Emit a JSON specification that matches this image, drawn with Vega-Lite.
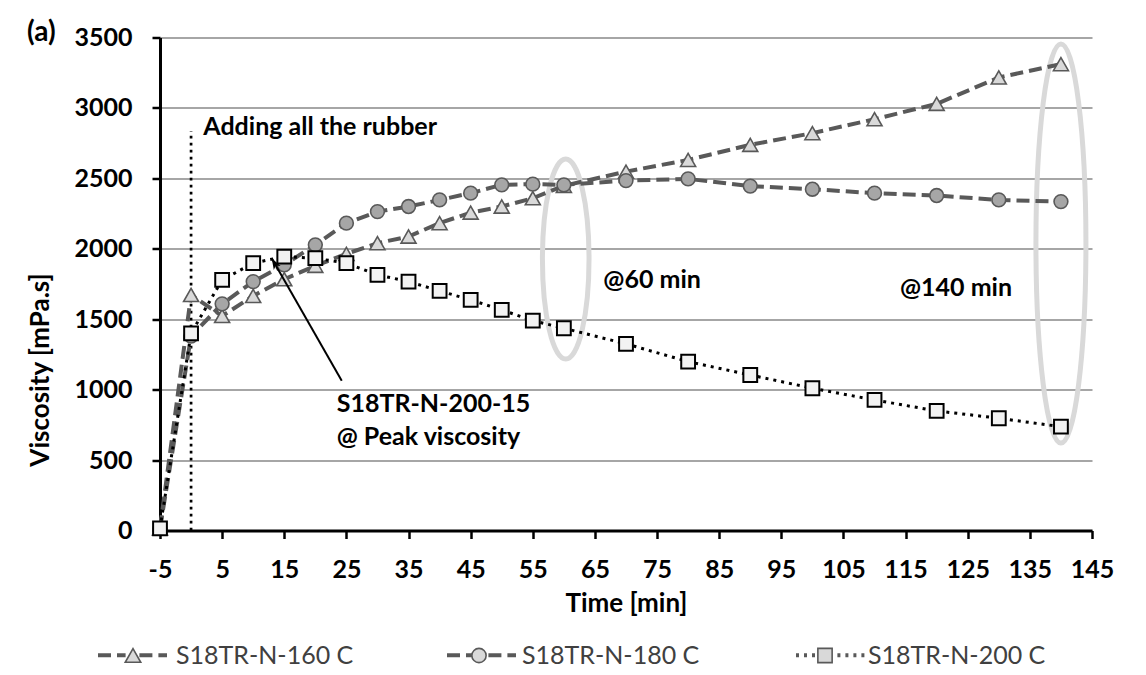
{
  "$schema": "https://vega.github.io/schema/vega-lite/v6.json",
  "width": 932,
  "height": 493,
  "autosize": {"type": "none"},
  "padding": {"left": 160, "top": 37.5, "right": 54, "bottom": 144.5},
  "background": "white",
  "config": {"view": {"stroke": null}, "font": "Lato"},
  "datasets": {
    "series": [
      {"series": "S18TR-N-160 C", "t": -5, "v": 15},
      {"series": "S18TR-N-160 C", "t": 0, "v": 1672},
      {"series": "S18TR-N-160 C", "t": 5, "v": 1523},
      {"series": "S18TR-N-160 C", "t": 10, "v": 1665},
      {"series": "S18TR-N-160 C", "t": 15, "v": 1784},
      {"series": "S18TR-N-160 C", "t": 20, "v": 1879},
      {"series": "S18TR-N-160 C", "t": 25, "v": 1964},
      {"series": "S18TR-N-160 C", "t": 30, "v": 2040},
      {"series": "S18TR-N-160 C", "t": 35, "v": 2087},
      {"series": "S18TR-N-160 C", "t": 40, "v": 2182},
      {"series": "S18TR-N-160 C", "t": 45, "v": 2257},
      {"series": "S18TR-N-160 C", "t": 50, "v": 2300},
      {"series": "S18TR-N-160 C", "t": 55, "v": 2359},
      {"series": "S18TR-N-160 C", "t": 60, "v": 2447},
      {"series": "S18TR-N-160 C", "t": 70, "v": 2548},
      {"series": "S18TR-N-160 C", "t": 80, "v": 2631},
      {"series": "S18TR-N-160 C", "t": 90, "v": 2738},
      {"series": "S18TR-N-160 C", "t": 100, "v": 2821},
      {"series": "S18TR-N-160 C", "t": 110, "v": 2920},
      {"series": "S18TR-N-160 C", "t": 120, "v": 3029},
      {"series": "S18TR-N-160 C", "t": 130, "v": 3216},
      {"series": "S18TR-N-160 C", "t": 140, "v": 3311},
      {"series": "S18TR-N-180 C", "t": -5, "v": 15},
      {"series": "S18TR-N-180 C", "t": 0, "v": 1380},
      {"series": "S18TR-N-180 C", "t": 5, "v": 1609},
      {"series": "S18TR-N-180 C", "t": 10, "v": 1767},
      {"series": "S18TR-N-180 C", "t": 15, "v": 1886},
      {"series": "S18TR-N-180 C", "t": 20, "v": 2028},
      {"series": "S18TR-N-180 C", "t": 25, "v": 2182},
      {"series": "S18TR-N-180 C", "t": 30, "v": 2264},
      {"series": "S18TR-N-180 C", "t": 35, "v": 2300},
      {"series": "S18TR-N-180 C", "t": 40, "v": 2347},
      {"series": "S18TR-N-180 C", "t": 45, "v": 2395},
      {"series": "S18TR-N-180 C", "t": 50, "v": 2454},
      {"series": "S18TR-N-180 C", "t": 55, "v": 2459},
      {"series": "S18TR-N-180 C", "t": 60, "v": 2454},
      {"series": "S18TR-N-180 C", "t": 70, "v": 2484},
      {"series": "S18TR-N-180 C", "t": 80, "v": 2496},
      {"series": "S18TR-N-180 C", "t": 90, "v": 2445},
      {"series": "S18TR-N-180 C", "t": 100, "v": 2423},
      {"series": "S18TR-N-180 C", "t": 110, "v": 2395},
      {"series": "S18TR-N-180 C", "t": 120, "v": 2378},
      {"series": "S18TR-N-180 C", "t": 130, "v": 2347},
      {"series": "S18TR-N-180 C", "t": 140, "v": 2335},
      {"series": "S18TR-N-200 C", "t": -5, "v": 15},
      {"series": "S18TR-N-200 C", "t": 0, "v": 1400},
      {"series": "S18TR-N-200 C", "t": 5, "v": 1779},
      {"series": "S18TR-N-200 C", "t": 10, "v": 1898},
      {"series": "S18TR-N-200 C", "t": 15, "v": 1945},
      {"series": "S18TR-N-200 C", "t": 20, "v": 1933},
      {"series": "S18TR-N-200 C", "t": 25, "v": 1898},
      {"series": "S18TR-N-200 C", "t": 30, "v": 1815},
      {"series": "S18TR-N-200 C", "t": 35, "v": 1767},
      {"series": "S18TR-N-200 C", "t": 40, "v": 1701},
      {"series": "S18TR-N-200 C", "t": 45, "v": 1637},
      {"series": "S18TR-N-200 C", "t": 50, "v": 1566},
      {"series": "S18TR-N-200 C", "t": 55, "v": 1490},
      {"series": "S18TR-N-200 C", "t": 60, "v": 1436},
      {"series": "S18TR-N-200 C", "t": 70, "v": 1325},
      {"series": "S18TR-N-200 C", "t": 80, "v": 1199},
      {"series": "S18TR-N-200 C", "t": 90, "v": 1104},
      {"series": "S18TR-N-200 C", "t": 100, "v": 1010},
      {"series": "S18TR-N-200 C", "t": 110, "v": 927},
      {"series": "S18TR-N-200 C", "t": 120, "v": 849},
      {"series": "S18TR-N-200 C", "t": 130, "v": 797},
      {"series": "S18TR-N-200 C", "t": 140, "v": 737}
    ],
    "ellipses": [
      {"which": "e60", "t": 60.3, "v": 1927},
      {"which": "e140", "t": 140, "v": 2037}
    ],
    "marker": [{"t": 0, "v": 0, "v2": 2836}],
    "arrow": [{"t": 24.25, "v": 1063, "t2": 12.98, "v2": 1932}],
    "panel": [{"label": "(a)", "t": -26.4, "v": 3535}],
    "notes": [
      {"label": "Adding all the rubber", "t": 1.97, "v": 2867},
      {"label": "S18TR-N-200-15", "t": 23.44, "v": 898},
      {"label": "@ Peak viscosity", "t": 23.44, "v": 664},
      {"label": "@60 min", "t": 66.35, "v": 1778},
      {"label": "@140 min", "t": 114.1, "v": 1719}
    ]
  },
  "encoding": {
    "x": {
      "field": "t", "type": "quantitative",
      "scale": {"domain": [-5, 145], "nice": false, "zero": false},
      "axis": {
        "title": "Time [min]",
        "values": [-5, 5, 15, 25, 35, 45, 55, 65, 75, 85, 95, 105, 115, 125, 135, 145],
        "labelExpr": "'' + datum.value",
        "grid": false,
        "domainColor": "#000000", "domainWidth": 3,
        "tickColor": "#000000", "tickWidth": 2.5, "tickSize": 8,
        "labelFont": "Lato", "labelFontWeight": "bold", "labelFontSize": 25, "labelColor": "#000000",
        "labelBaseline": "middle", "labelPadding": 31, "labelFlush": false, "labelOverlap": false,
        "titleFont": "Lato", "titleFontWeight": "bold", "titleFontSize": 26, "titleColor": "#000000",
        "titleBaseline": "middle", "titleY": 73
      }
    },
    "y": {
      "field": "v", "type": "quantitative",
      "scale": {"domain": [0, 3500], "nice": false, "zero": true},
      "axis": {
        "title": "Viscosity [mPa.s]",
        "values": [0, 500, 1000, 1500, 2000, 2500, 3000, 3500],
        "labelExpr": "'' + datum.value",
        "grid": true, "gridColor": "#a6a6a6", "gridWidth": 2,
        "domainColor": "#000000", "domainWidth": 3,
        "tickColor": "#000000", "tickWidth": 2.5, "tickSize": 8,
        "labelFont": "Lato", "labelFontWeight": "bold", "labelFontSize": 25, "labelColor": "#000000",
        "labelPadding": 20, "labelFlush": false, "labelOverlap": false,
        "titleFont": "Lato", "titleFontWeight": "bold", "titleFontSize": 26, "titleColor": "#000000",
        "titleAngle": 270, "titleAlign": "center", "titleBaseline": "middle", "titleX": -120, "titleY": 332
      }
    }
  },
  "layer": [
    {
      "data": {"name": "ellipses"},
      "transform": [{"filter": "datum.which === 'e60'"}],
      "mark": {"type": "point", "filled": false, "stroke": "#d9d9d9", "strokeWidth": 5, "opacity": 1, "size": 40000,
        "shape": "M0,-1C0.1287,-1,0.233,-0.5523,0.233,0C0.233,0.5523,0.1287,1,0,1C-0.1287,1,-0.233,0.5523,-0.233,0C-0.233,-0.5523,-0.1287,-1,0,-1Z"}
    },
    {
      "data": {"name": "ellipses"},
      "transform": [{"filter": "datum.which === 'e140'"}],
      "mark": {"type": "point", "filled": false, "stroke": "#d9d9d9", "strokeWidth": 5, "opacity": 1, "size": 159201,
        "shape": "M0,-1C0.0692,-1,0.1253,-0.5523,0.1253,0C0.1253,0.5523,0.0692,1,0,1C-0.0692,1,-0.1253,0.5523,-0.1253,0C-0.1253,-0.5523,-0.0692,-1,0,-1Z"}
    },
    {
      "data": {"name": "marker"},
      "mark": {"type": "rule", "stroke": "#000000", "strokeWidth": 2.7, "strokeDash": [2.7, 4.3]},
      "encoding": {"y2": {"field": "v2"}}
    },
    {
      "data": {"name": "series"},
      "transform": [{"filter": "datum.series !== 'S18TR-N-200 C'"}],
      "mark": {"type": "line", "stroke": "#595959", "strokeWidth": 4},
      "encoding": {
        "strokeDash": {
          "field": "series", "type": "nominal",
          "scale": {"range": [[13, 6], [13, 6], [3, 5]]},
          "legend": {
            "orient": "none", "legendX": -64, "legendY": 581, "direction": "horizontal", "title": null,
            "symbolType": "M-1,0L-0.2,0M0.2,0L1,0",
            "symbolSize": 4761, "symbolStrokeWidth": 4,
            "padding": 0, "labelFont": "Lato", "labelFontSize": 25, "labelColor": "#404040",
            "labelOffset": 6, "columnPadding": 86, "labelLimit": 400, "labelOpacity": 0,
            "encode": {"symbols": {
              "stroke": {"value": {"expr": "datum.value === 'S18TR-N-200 C' ? '#000000' : '#595959'"}},
              "strokeWidth": {"value": 4},
              "fill": {"value": "transparent"},
              "opacity": {"value": 1}
            }}
          }
        }
      }
    },
    {
      "data": {"name": "series"},
      "transform": [{"filter": "datum.series === 'S18TR-N-200 C'"}],
      "mark": {"type": "line", "stroke": "#000000", "strokeWidth": 3},
      "encoding": {
        "strokeDash": {
          "field": "series", "type": "nominal",
          "scale": {"range": [[13, 6], [13, 6], [3, 5]]}
        }
      }
    },
    {
      "data": {"name": "series"},
      "transform": [{"filter": "datum.series === 'S18TR-N-160 C'"}],
      "mark": {"type": "point", "filled": true, "fill": "#d9d9d9", "stroke": "#595959", "strokeWidth": 1.6, "size": 4761, "opacity": 1},
      "encoding": {
        "shape": {
          "field": "series", "type": "nominal",
          "scale": {"domain": ["S18TR-N-160 C", "S18TR-N-180 C", "S18TR-N-200 C"],
            "range": ["M-1,0M1,0M0,-0.19L0.217,0.19L-0.217,0.19Z",
                      "M-1,0M1,0M0.2,0C0.2,0.1105,0.1105,0.2,0,0.2C-0.1105,0.2,-0.2,0.1105,-0.2,0C-0.2,-0.1105,-0.1105,-0.2,0,-0.2C0.1105,-0.2,0.2,-0.1105,0.2,0Z",
                      "M-1,0M1,0M-0.2,-0.2L0.2,-0.2L0.2,0.2L-0.2,0.2Z"]},
          "legend": {
            "orient": "none", "legendX": -64, "legendY": 581, "direction": "horizontal", "title": null,
            "symbolSize": 5098, "symbolStrokeWidth": 1.6,
            "padding": 0, "labelFont": "Lato", "labelFontSize": 25, "labelColor": "#404040",
            "labelOffset": 6, "columnPadding": 86, "labelLimit": 400,
            "encode": {"symbols": {
              "fill": {"value": {"expr": "datum.value === 'S18TR-N-160 C' ? '#d9d9d9' : datum.value === 'S18TR-N-180 C' ? '#a6a6a6' : '#f2f2f2'"}},
              "stroke": {"value": {"expr": "datum.value === 'S18TR-N-200 C' ? '#000000' : '#595959'"}},
              "strokeWidth": {"value": 1.6},
              "opacity": {"value": 1}
            }}
          }
        }
      }
    },
    {
      "data": {"name": "series"},
      "transform": [{"filter": "datum.series === 'S18TR-N-180 C'"}],
      "mark": {"type": "point", "filled": true, "fill": "#a6a6a6", "stroke": "#595959", "strokeWidth": 1.6, "size": 4761, "opacity": 1},
      "encoding": {
        "shape": {"field": "series", "type": "nominal"}
      }
    },
    {
      "data": {"name": "series"},
      "transform": [{"filter": "datum.series === 'S18TR-N-200 C'"}],
      "mark": {"type": "point", "filled": true, "fill": "#f2f2f2", "stroke": "#000000", "strokeWidth": 2, "size": 4761, "opacity": 1},
      "encoding": {
        "shape": {"field": "series", "type": "nominal"}
      }
    },
    {
      "data": {"name": "arrow"},
      "mark": {"type": "rule", "stroke": "#000000", "strokeWidth": 2},
      "encoding": {"x2": {"field": "t2"}, "y2": {"field": "v2"}}
    },
    {
      "data": {"name": "arrow"},
      "mark": {"type": "point", "filled": true, "fill": "#000000", "stroke": null, "size": 169, "opacity": 1, "angle": 330.2,
        "shape": "M0,0L0.6,1.7L0,1.25L-0.6,1.7Z"},
      "encoding": {"x": {"field": "t2", "type": "quantitative"}, "y": {"field": "v2", "type": "quantitative"}}
    },
    {
      "data": {"name": "notes"},
      "mark": {"type": "text", "align": "left", "baseline": "middle", "font": "Lato", "fontWeight": "bold", "fontSize": 25, "color": "#000000"},
      "encoding": {"text": {"field": "label", "type": "nominal"}}
    },
    {
      "data": {"name": "panel"},
      "mark": {"type": "text", "align": "left", "baseline": "middle", "font": "Lato", "fontWeight": "bold", "fontSize": 28, "color": "#000000"},
      "encoding": {"text": {"field": "label", "type": "nominal"}}
    }
  ]
}
